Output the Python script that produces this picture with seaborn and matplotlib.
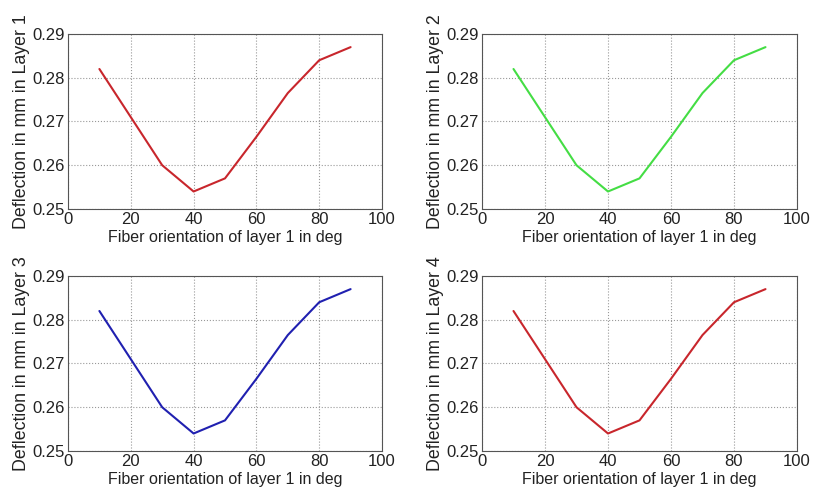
import matplotlib
matplotlib.use("Agg")
import matplotlib.pyplot as plt
import seaborn as sns
import pandas as pd

orientation = [10, 20, 30, 40, 50, 60, 70, 80, 90]
layer1 = [0.282, 0.271, 0.260, 0.254, 0.257, 0.2665, 0.2765, 0.284, 0.287]
layer2 = [0.282, 0.271, 0.260, 0.254, 0.257, 0.2665, 0.2765, 0.284, 0.287]
layer3 = [0.282, 0.271, 0.260, 0.254, 0.257, 0.2665, 0.2765, 0.284, 0.287]
layer4 = [0.282, 0.271, 0.260, 0.254, 0.257, 0.2665, 0.2765, 0.284, 0.287]
layers = ["Layer 1", "Layer 2", "Layer 3", "Layer 4"]
colors = ["#c8262c", "#44dd44", "#2020b0", "#c8262c"]
xticks = [0, 20, 40, 60, 80, 100]
yticks = [0.25, 0.26, 0.27, 0.28, 0.29]

sns.set_style("white")
plt.rcParams['font.family'] = ['Liberation Sans', 'DejaVu Sans']

fig = plt.figure(figsize=(8.14, 4.93), dpi=100)
W, H = 814, 493
boxes = [(68, 34, 382, 209), (482, 34, 797, 209), (68, 276, 382, 451), (482, 276, 797, 451)]
series = [layer1, layer2, layer3, layer4]
for (l, t, r, b), vals, name, c in zip(boxes, series, layers, colors):
    ax = fig.add_axes([l / W, 1 - b / H, (r - l) / W, (b - t) / H])
    df = pd.DataFrame({"x": orientation, "y": vals})
    sns.lineplot(data=df, x="x", y="y", ax=ax, color=c, linewidth=1.5)
    ax.set_xlim(0, 100)
    ax.set_ylim(0.25, 0.29)
    ax.set_xticks(xticks)
    ax.set_xticklabels([str(v) for v in xticks])
    ax.set_yticks(yticks)
    ax.set_yticklabels([f"{v:.2f}" for v in yticks])
    ax.grid(True, linestyle=":", color="#999999", linewidth=0.8)
    ax.tick_params(labelsize=12, length=3, direction="in", pad=2, colors="#222222")
    for s in ax.spines.values():
        s.set_color("#555555")
        s.set_linewidth(0.8)
    ax.set_xlabel("Fiber orientation of layer 1 in deg", fontsize=11.5, labelpad=2, color="#222222")
    ax.set_ylabel(f"Deflection in mm in {name}", fontsize=12.8, labelpad=2, color="#222222")

fig.savefig("out.png", dpi=100)
